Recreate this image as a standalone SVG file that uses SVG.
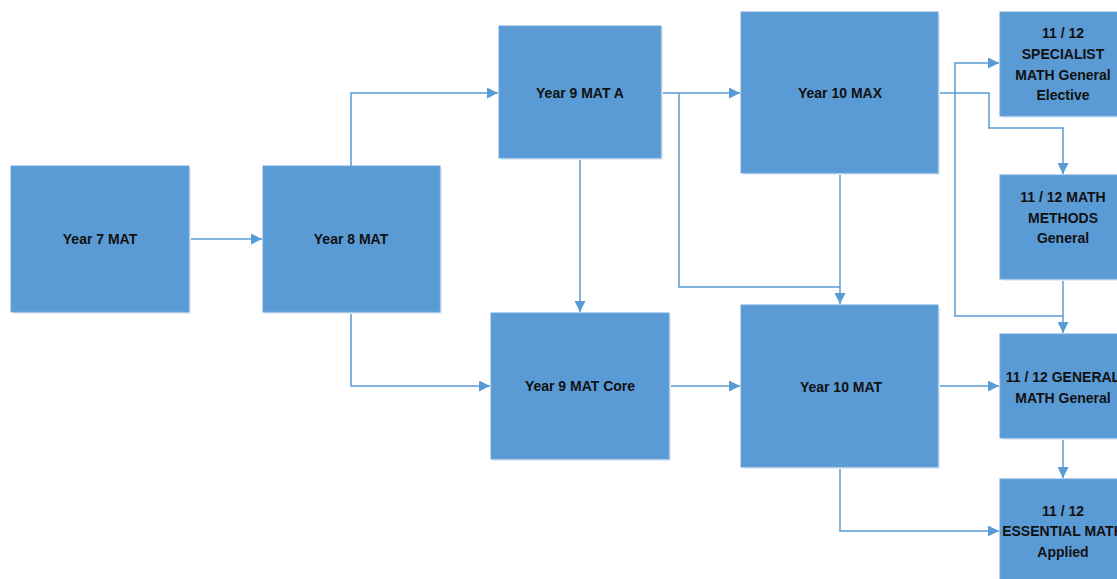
<svg xmlns="http://www.w3.org/2000/svg" width="1117" height="579" viewBox="0 0 1117 579">
<style>
.box{fill:#5b9bd5;stroke:#6ea6da;stroke-width:1}
.sh{fill:#e4edf6}
.t{font-family:"Liberation Sans",Arial,sans-serif;font-weight:bold;font-size:14px;fill:#111;text-anchor:middle}
.c{fill:none;stroke:#5b9bd5;stroke-width:1.5}
</style>
<defs>
<marker id="ah" markerUnits="userSpaceOnUse" markerWidth="11" markerHeight="11" refX="10" refY="5" orient="auto" viewBox="0 0 10 10">
<path d="M0,0 L10,5 L0,10 z" fill="#5b9bd5"/>
</marker>
</defs>
<rect width="1117" height="579" fill="#fff"/>
<g id="connectors">
<path class="c" d="M189,239 H262" marker-end="url(#ah)"/>
<path class="c" d="M351,166 V93 H498" marker-end="url(#ah)"/>
<path class="c" d="M351,312 V386 H490" marker-end="url(#ah)"/>
<path class="c" d="M580,158 V312" marker-end="url(#ah)"/>
<path class="c" d="M661,93 H740" marker-end="url(#ah)"/>
<path class="c" d="M679,93 V287 H840"/>
<path class="c" d="M840,173 V304" marker-end="url(#ah)"/>
<path class="c" d="M938,93 H989 V128 H1063 V174" marker-end="url(#ah)"/>
<path class="c" d="M955,93 V63 H999" marker-end="url(#ah)"/>
<path class="c" d="M955,93 V316 H1063 V333" marker-end="url(#ah)"/>
<path class="c" d="M1063,279 V316"/>
<path class="c" d="M669,386 H740" marker-end="url(#ah)"/>
<path class="c" d="M938,386 H999" marker-end="url(#ah)"/>
<path class="c" d="M1063,438 V478" marker-end="url(#ah)"/>
<path class="c" d="M840,467 V531 H999" marker-end="url(#ah)"/>
</g>
<g id="y7">
<rect class="sh" x="13" y="168" width="178" height="146"/>
<rect class="box" x="11" y="166" width="178" height="146"/>
<text class="t" x="100" y="244">Year 7 MAT</text>
</g>
<g id="y8">
<rect class="sh" x="265" y="168" width="177" height="146"/>
<rect class="box" x="263" y="166" width="177" height="146"/>
<text class="t" x="351" y="244">Year 8 MAT</text>
</g>
<g id="y9a">
<rect class="sh" x="501" y="28" width="162" height="132"/>
<rect class="box" x="499" y="26" width="162" height="132"/>
<text class="t" x="580" y="98">Year 9 MAT A</text>
</g>
<g id="y9core">
<rect class="sh" x="493" y="315" width="178" height="146"/>
<rect class="box" x="491" y="313" width="178" height="146"/>
<text class="t" x="580" y="391">Year 9 MAT Core</text>
</g>
<g id="y10max">
<rect class="sh" x="743" y="14" width="197" height="161"/>
<rect class="box" x="741" y="12" width="197" height="161"/>
<text class="t" x="840" y="98">Year 10 MAX</text>
</g>
<g id="y10mat">
<rect class="sh" x="743" y="307" width="197" height="162"/>
<rect class="box" x="741" y="305" width="197" height="162"/>
<text class="t" x="841" y="392">Year 10 MAT</text>
</g>
<g id="specialist">
<rect class="sh" x="1002" y="14" width="126" height="104"/>
<rect class="box" x="1000" y="12" width="126" height="104"/>
<text class="t" x="1063" y="38">11 / 12</text>
<text class="t" x="1063" y="59">SPECIALIST</text>
<text class="t" x="1063" y="80">MATH General</text>
<text class="t" x="1063" y="100">Elective</text>
</g>
<g id="methods">
<rect class="sh" x="1002" y="177" width="126" height="104"/>
<rect class="box" x="1000" y="175" width="126" height="104"/>
<text class="t" x="1063" y="202">11 / 12 MATH</text>
<text class="t" x="1063" y="223">METHODS</text>
<text class="t" x="1063" y="243">General</text>
</g>
<g id="general">
<rect class="sh" x="1002" y="336" width="126" height="104"/>
<rect class="box" x="1000" y="334" width="126" height="104"/>
<text class="t" x="1063" y="382">11 / 12 GENERAL</text>
<text class="t" x="1063" y="403">MATH General</text>
</g>
<g id="essential">
<rect class="box" x="1000" y="479" width="126" height="110"/>
<text class="t" x="1063" y="516">11 / 12</text>
<text class="t" x="1063" y="536">ESSENTIAL MATH</text>
<text class="t" x="1063" y="557">Applied</text>
</g>
</svg>
